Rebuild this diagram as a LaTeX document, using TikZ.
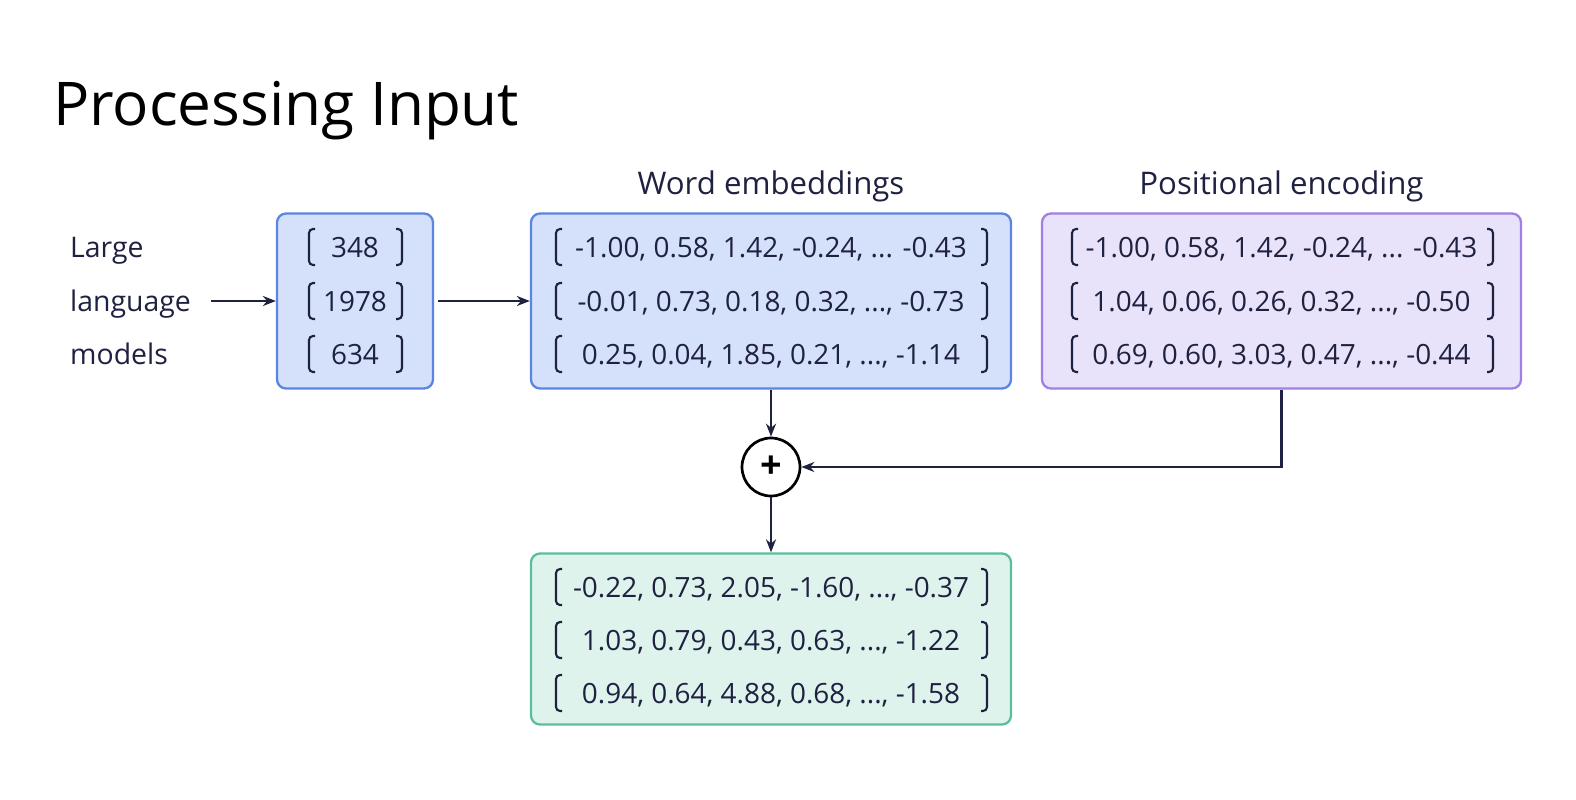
\documentclass[tikz,border=0pt]{standalone}
\usepackage{fontspec}
\setmainfont{Open Sans}
\usetikzlibrary{arrows.meta}

\definecolor{ink}{HTML}{1E2140}
\definecolor{blueline}{HTML}{5A86E2}
\definecolor{bluefill}{HTML}{D5E0FA}
\definecolor{purpleline}{HTML}{A17FE3}
\definecolor{purplefill}{HTML}{E8E2FB}
\definecolor{greenline}{HTML}{5DBE9E}
\definecolor{greenfill}{HTML}{DFF3ED}

\tikzset{
  vecbox/.style={draw=#1line, fill=#1fill, line width=2.3bp, rounded corners=9bp},
  row/.style={anchor=base, font=\fontsize{28}{30}\selectfont, text=ink, inner sep=0pt},
  lbl/.style={anchor=base west, font=\fontsize{28.5}{30}\selectfont, text=ink, inner sep=0pt},
  head/.style={anchor=base, font=\fontsize{31.3}{34}\selectfont, text=ink, inner sep=0pt},
  brk/.style={draw=ink, line width=2.1bp, rounded corners=4bp},
  link/.style={draw=ink, line width=2.2bp, -{Stealth[length=13bp,width=10bp]}},
}

\begin{document}
\begin{tikzpicture}[x=1bp, y=-1bp]
        \useasboundingbox[fill=white] (0,0) rectangle (1576,799);

        % Title
        \node[anchor=base west, inner sep=0pt, font=\fontsize{60.5}{66}\selectfont] (title) at (53,125) {Processing Input};

        % Input words
        \node[lbl] (large) at (70,257) {Large};
        \node[lbl] (language) at (70,311) {language};
        \node[lbl] (models) at (70,364) {models};

        % Boxes
        \node[vecbox=blue, minimum width=156bp, minimum height=175bp] (tok) at (355,301) {};
        \node[vecbox=blue, minimum width=480bp, minimum height=175bp] (word) at (771,301) {};
        \node[vecbox=purple, minimum width=479bp, minimum height=175bp] (pos) at (1281.5,301) {};
        \node[vecbox=green, minimum width=480bp, minimum height=171bp] (out) at (771,639) {};

        % Headings
        \node[head] (wordhead) at (771,194) {Word embeddings};
        \node[head] (poshead) at (1281.5,194) {Positional encoding};

        % Token ids
        \foreach \y/\t in {247/348, 301/1978, 354/634} {
          \node[row] at (355,\y+10) {\t};
          \draw[brk] (315,\y-18) -- (309,\y-18) -- (309,\y+18) -- (315,\y+18);
          \draw[brk] (396,\y-18) -- (402,\y-18) -- (402,\y+18) -- (396,\y+18);
        }

        % Word embeddings
        \foreach \y/\t in {247/{-1.00, 0.58, 1.42, -0.24, ... -0.43},
                           301/{-0.01, 0.73, 0.18, 0.32, ..., -0.73},
                           354/{0.25, 0.04, 1.85, 0.21, ..., -1.14}} {
          \node[row] at (771,\y+10) {\t};
          \draw[brk] (562,\y-18) -- (556,\y-18) -- (556,\y+18) -- (562,\y+18);
          \draw[brk] (981,\y-18) -- (987,\y-18) -- (987,\y+18) -- (981,\y+18);
        }

        % Positional encoding
        \foreach \y/\t in {247/{-1.00, 0.58, 1.42, -0.24, ... -0.43},
                           301/{1.04, 0.06, 0.26, 0.32, ..., -0.50},
                           354/{0.69, 0.60, 3.03, 0.47, ..., -0.44}} {
          \node[row] at (1281.5,\y+10) {\t};
          \draw[brk] (1078,\y-18) -- (1072,\y-18) -- (1072,\y+18) -- (1078,\y+18);
          \draw[brk] (1487,\y-18) -- (1493,\y-18) -- (1493,\y+18) -- (1487,\y+18);
        }

        % Sum
        \foreach \y/\t in {587/{-0.22, 0.73, 2.05, -1.60, ..., -0.37},
                           640/{1.03, 0.79, 0.43, 0.63, ..., -1.22},
                           693/{0.94, 0.64, 4.88, 0.68, ..., -1.58}} {
          \node[row] at (771,\y+10) {\t};
          \draw[brk] (562,\y-18) -- (556,\y-18) -- (556,\y+18) -- (562,\y+18);
          \draw[brk] (981,\y-18) -- (987,\y-18) -- (987,\y+18) -- (981,\y+18);
        }

        % Adder
        \node[circle, draw=black, line width=2.7bp, minimum size=58bp, inner sep=0pt, fill=white,
              font=\fontsize{38}{38}\selectfont\bfseries] (plus) at (771,467) {+};

        % Connectors
        \draw[link, shorten <=20bp] (language.east |- tok.west) -- (tok.west);
        \draw[link, shorten <=4bp] (tok.east) -- (word.west);
        \draw[link] (word.south) -- (plus.north);
        \draw[link] (plus.south) -- (out.north);
        \draw[link] (pos.south) |- (plus.east);
\end{tikzpicture}
\end{document}
